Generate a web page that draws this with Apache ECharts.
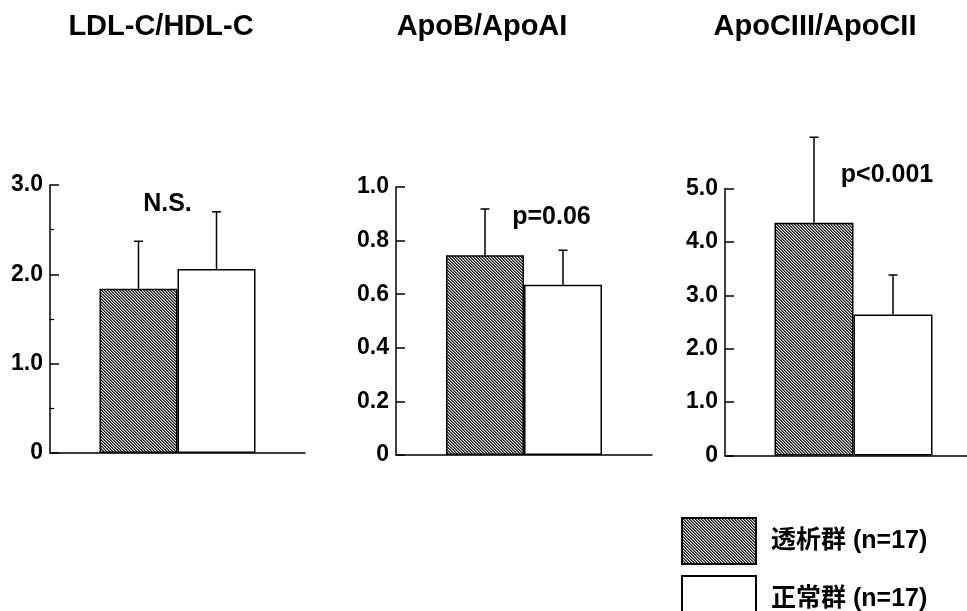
<!DOCTYPE html>
<html>
<head>
<meta charset="utf-8">
<script src="https://cdn.jsdelivr.net/npm/echarts@6/dist/echarts.min.js"></script>
<style>html,body{margin:0;padding:0;background:#fff;overflow:hidden;width:967px;height:611px}#c{width:990px;height:611px}</style>
</head>
<body>
<div id="c"></div>
<script>
// ---- data ----
const panelTitles = ['LDL-C/HDL-C', 'ApoB/ApoAI', 'ApoCIII/ApoCII'];
const seriesNames = ['透析群 (n=17)', '正常群 (n=17)'];
const dialysisMean = [1.84, 0.745, 4.36];
const dialysisSD = [0.53, 0.173, 1.60];
const normalMean = [2.06, 0.635, 2.64];
const normalSD = [0.64, 0.129, 0.74];
const pLabels = ['N.S.', 'p=0.06', 'p<0.001'];
const yMax = [3, 1, 5];
const yInterval = [1, 0.2, 1];
const tickLabels = [
  ['0', '1.0', '2.0', '3.0'],
  ['0', '0.2', '0.4', '0.6', '0.8', '1.0'],
  ['0', '1.0', '2.0', '3.0', '4.0', '5.0']
];
const minorTicks = [true, false, false];

// ---- layout / style ----
const FONT = '"Liberation Sans", Arial, "Noto Sans CJK JP", sans-serif';
const grids = [
  {left: 50, top: 185, width: 255, height: 268},
  {left: 396, top: 187, width: 256, height: 268},
  {left: 725, top: 188.5, width: 257, height: 267}
];
const barWidths = [78, 78, 79];
const titleX = [161, 482, 815];
const pPos = [[167.5, 204], [551.5, 217], [887, 175]];

function makeHatch() {
  const s = 6;
  const c = document.createElement('canvas');
  c.width = s; c.height = s;
  const ctx = c.getContext('2d');
  const shades = ['#1e1e1e', '#6a6a6a', '#e8e8e8'];
  for (let y = 0; y < s; y++) {
    for (let x = 0; x < s; x++) {
      ctx.fillStyle = shades[(((x - y) % 3) + 3) % 3];
      ctx.fillRect(x, y, 1, 1);
    }
  }
  return c;
}
const hatch = {image: makeHatch(), repeat: 'repeat'};

const legendBase = {
  orient: 'vertical', left: 676, itemWidth: 74, itemHeight: 46, icon: 'rect',
  selectedMode: false,
  textStyle: {color: '#000', fontSize: 25, fontWeight: 'bold', fontFamily: FONT, padding: [0, 0, 0, 10]}
};

const option = {
  animation: false,
  backgroundColor: '#fff',
  grid: grids,
  xAxis: grids.map((g, i) => ({
    type: 'category', gridIndex: i, data: [''],
    axisLine: {lineStyle: {color: '#000', width: 1.5}},
    axisTick: {show: false}, axisLabel: {show: false}, splitLine: {show: false}
  })),
  yAxis: grids.map((g, i) => ({
    type: 'value', gridIndex: i, min: 0, max: yMax[i], interval: yInterval[i],
    axisLine: {show: true, lineStyle: {color: '#000', width: 1.5}},
    axisTick: {show: true, inside: true, length: 9, lineStyle: {color: '#000', width: 1.5}},
    minorTick: {show: minorTicks[i], splitNumber: 2, length: 4, lineStyle: {color: '#000', width: 1.2}},
    splitLine: {show: false},
    axisLabel: {
      color: '#000', fontWeight: 'bold', fontSize: 23, fontFamily: FONT, margin: 7,
      formatter: (v) => tickLabels[i][Math.round(v / yInterval[i])]
    }
  })),
  legend: [
    Object.assign({}, legendBase, {top: 512, data: [seriesNames[0]]}),
    Object.assign({}, legendBase, {top: 570, data: [seriesNames[1]]})
  ],
  graphic: [],
  series: []
};

panelTitles.forEach((t, i) => {
  option.graphic.push({
    type: 'text', x: titleX[i], y: 27, silent: true,
    style: {text: t, font: 'bold 29px ' + FONT, fill: '#000', textAlign: 'center', textVerticalAlign: 'middle'}
  });
  option.graphic.push({
    type: 'text', x: pPos[i][0], y: pPos[i][1], silent: true,
    style: {text: pLabels[i], font: 'bold 25px ' + FONT, fill: '#000', textAlign: 'center', textVerticalAlign: 'middle'}
  });
});

for (let i = 0; i < 3; i++) {
  option.series.push({
    name: seriesNames[0], type: 'bar', xAxisIndex: i, yAxisIndex: i,
    data: [dialysisMean[i]], barWidth: barWidths[i], barGap: '0%',
    itemStyle: {color: hatch, borderColor: '#000', borderWidth: 1.5}
  });
  option.series.push({
    name: seriesNames[1], type: 'bar', xAxisIndex: i, yAxisIndex: i,
    data: [normalMean[i]], barWidth: barWidths[i], barGap: '0%',
    itemStyle: {color: '#fff', borderColor: '#000', borderWidth: 1.5}
  });
  const bw = barWidths[i];
  option.series.push({
    type: 'custom', xAxisIndex: i, yAxisIndex: i, z: 5, silent: true,
    data: [[0, dialysisMean[i], dialysisSD[i], -1], [0, normalMean[i], normalSD[i], 1]],
    renderItem: function (params, api) {
      const m = api.value(1), sd = api.value(2), side = api.value(3);
      const p0 = api.coord([api.value(0), m]);
      const p1 = api.coord([api.value(0), m + sd]);
      const x = p0[0] + side * bw / 2;
      const cap = 4.5;
      const st = {stroke: '#000', lineWidth: 1.5, fill: null};
      return {
        type: 'group',
        children: [
          {type: 'line', shape: {x1: x, y1: p0[1], x2: x, y2: p1[1]}, style: st},
          {type: 'line', shape: {x1: x - cap, y1: p1[1], x2: x + cap, y2: p1[1]}, style: st}
        ]
      };
    }
  });
}

const chart = echarts.init(document.getElementById('c'), null, {renderer: 'canvas'});
chart.setOption(option);
</script>
</body>
</html>
